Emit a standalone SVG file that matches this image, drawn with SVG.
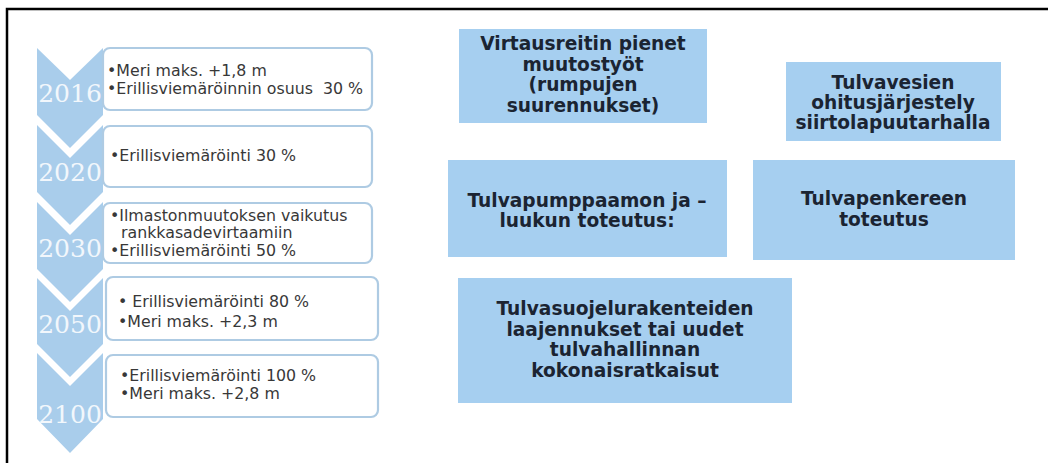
<svg xmlns="http://www.w3.org/2000/svg" width="1048" height="463" viewBox="0 0 1048 463">
<style>
.chev{fill:#a9cdeb}
.year{font-family:"DejaVu Serif","Liberation Serif",serif;font-size:25px;fill:#f2f7fc;text-anchor:middle}
.lbox{fill:#ffffff;stroke:#aecbe3;stroke-width:2.2}
.lt{font-family:"DejaVu Sans","Liberation Sans",sans-serif;font-size:15.8px;fill:#383838;white-space:pre}
.bbox{fill:#a6cff0}
.bt{font-family:"DejaVu Sans","Liberation Sans",sans-serif;font-weight:bold;font-size:18.6px;fill:#1b2432;text-anchor:middle}
</style>
<rect x="0" y="0" width="1048" height="463" fill="#ffffff"/>
<path d="M7,470 L7,9 L1060,9" fill="none" stroke="#000000" stroke-width="2.5"/>
<g id="timeline">
<g id="y2016">
<path class="chev" d="M37,48 L70,80 L103,48 L103,115 L70,148 L37,115 Z"/>
<rect class="lbox" x="103" y="48" width="269" height="62" rx="7"/>
<text class="year" x="70" y="102">2016</text>
<text class="lt" x="107" y="76">•Meri maks. +1,8 m</text>
<text class="lt" x="107" y="94" xml:space="preserve">•Erillisviemäröinnin osuus  30 %</text>
</g>
<g id="y2020">
<path class="chev" d="M37,125 L70,158 L103,125 L103,192 L70,225 L37,192 Z"/>
<rect class="lbox" x="103" y="126" width="269" height="61" rx="7"/>
<text class="year" x="70" y="181">2020</text>
<text class="lt" x="110" y="161">•Erillisviemäröinti 30 %</text>
</g>
<g id="y2030">
<path class="chev" d="M37,202 L70,235 L103,202 L103,269 L70,302 L37,269 Z"/>
<rect class="lbox" x="103" y="203" width="269" height="60" rx="7"/>
<text class="year" x="70" y="257">2030</text>
<text class="lt" x="110" y="221">•Ilmastonmuutoksen vaikutus</text>
<text class="lt" x="121" y="238">rankkasadevirtaamiin</text>
<text class="lt" x="110" y="256">•Erillisviemäröinti 50 %</text>
</g>
<g id="y2050">
<path class="chev" d="M37,278 L70,311 L103,278 L103,344 L70,377 L37,344 Z"/>
<rect class="lbox" x="106" y="277" width="272" height="63" rx="7"/>
<text class="year" x="70" y="333">2050</text>
<text class="lt" x="118" y="307" xml:space="preserve">• Erillisviemäröinti 80 %</text>
<text class="lt" x="118" y="327">•Meri maks. +2,3 m</text>
</g>
<g id="y2100">
<path class="chev" d="M37,353 L70,386 L103,353 L103,419 L70,453 L37,419 Z"/>
<rect class="lbox" x="106" y="355" width="272" height="62" rx="7"/>
<text class="year" x="70" y="423">2100</text>
<text class="lt" x="120" y="381">•Erillisviemäröinti 100 %</text>
<text class="lt" x="120" y="399">•Meri maks. +2,8 m</text>
</g>
</g>
<g id="connectors"></g>
<g id="boxA">
<rect class="bbox" x="459" y="29" width="248" height="94"/>
<text class="bt" x="583" y="50">Virtausreitin pienet</text>
<text class="bt" x="583" y="70.5">muutostyöt</text>
<text class="bt" x="583" y="91">(rumpujen</text>
<text class="bt" x="583" y="111.5">suurennukset)</text>
</g>
<g id="boxB">
<rect class="bbox" x="786" y="62" width="215" height="79"/>
<text class="bt" x="893" y="89">Tulvavesien</text>
<text class="bt" x="893" y="109">ohitusjärjestely</text>
<text class="bt" x="893" y="129">siirtolapuutarhalla</text>
</g>
<g id="boxC">
<rect class="bbox" x="448" y="160" width="279" height="97"/>
<text class="bt" x="587" y="207">Tulvapumppaamon ja –</text>
<text class="bt" x="587" y="227">luukun toteutus:</text>
</g>
<g id="boxD">
<rect class="bbox" x="753" y="160" width="262" height="100"/>
<text class="bt" x="884" y="205">Tulvapenkereen</text>
<text class="bt" x="884" y="226">toteutus</text>
</g>
<g id="boxE">
<rect class="bbox" x="458" y="278" width="334" height="125"/>
<text class="bt" x="625" y="315">Tulvasuojelurakenteiden</text>
<text class="bt" x="625" y="335.5">laajennukset tai uudet</text>
<text class="bt" x="625" y="356">tulvahallinnan</text>
<text class="bt" x="625" y="377">kokonaisratkaisut</text>
</g>
</svg>
